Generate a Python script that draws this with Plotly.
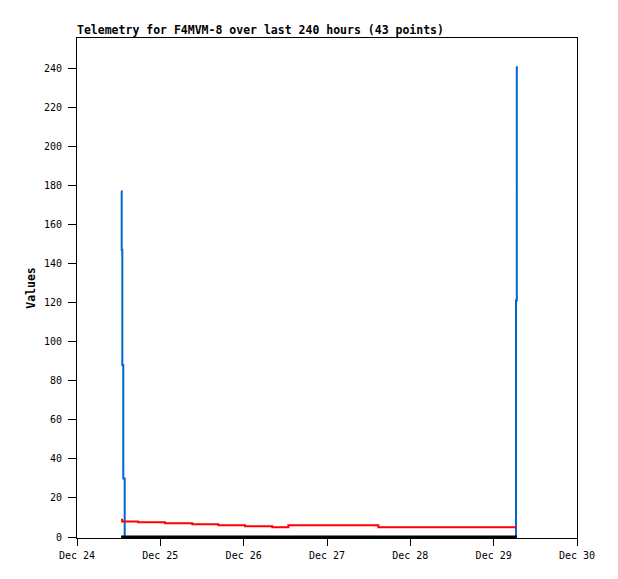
import plotly.graph_objects as go

# ---- data ----
blue_times = ["2024-12-24 12:42", "2024-12-24 12:52", "2024-12-24 13:03", "2024-12-24 13:20",
              "2024-12-24 13:44", "2024-12-29 06:26", "2024-12-29 06:40"]
blue_values = [177, 147, 88, 30, 0, 121, 241]

red_times = ["2024-12-24 12:42", "2024-12-24 13:00", "2024-12-24 17:34", "2024-12-25 01:21",
             "2024-12-25 09:12", "2024-12-25 16:42", "2024-12-26 00:23", "2024-12-26 08:15",
             "2024-12-26 12:52", "2024-12-27 14:47", "2024-12-29 06:40"]
red_values = [8.9, 8.0, 7.5, 7.0, 6.5, 6.0, 5.5, 5.0, 6.0, 5.0, 5.0]

black_times = ["2024-12-24 12:42", "2024-12-29 06:40"]
black_values = [0, 0]

title_text = "Telemetry for F4MVM-8 over last 240 hours (43 points)"
y_title = "Values"
x_range = ["2024-12-24", "2024-12-30"]
y_range = [-0.5, 255.4]

FONT = "DejaVu Sans Mono"
OFF = 8  # page body margin
W, H = 618 - OFF, 579 - OFF

fig = go.Figure()
fig.add_trace(go.Scatter(x=blue_times, y=blue_values, mode="lines",
                         line=dict(color="#0066CC", width=2, shape="hv"),
                         showlegend=False))
fig.add_trace(go.Scatter(x=black_times, y=black_values, mode="lines",
                         line=dict(color="#000000", width=3),
                         showlegend=False, hoverinfo="skip"))
fig.add_trace(go.Scatter(x=red_times, y=red_values, mode="lines",
                         line=dict(color="#FF0000", width=2, shape="hv"),
                         showlegend=False))

fig.update_layout(
    width=W, height=H,
    margin=dict(l=77 - OFF, r=41, t=38 - OFF, b=41),
    paper_bgcolor="white", plot_bgcolor="white",
    font=dict(family=FONT, size=10, color="black"),
    title=dict(text=title_text, x=(77 - OFF) / W, xref="container", xanchor="left",
               y=1 - (30 - OFF) / H, yref="container", yanchor="middle",
               font=dict(family=FONT, size=11.5, color="black", weight="bold")),
)
fig.update_xaxes(type="date", range=x_range, dtick=86400000, tickformat="%b %d",
                 showgrid=False, zeroline=False, showline=True, linecolor="black",
                 linewidth=1, mirror=True, ticks="outside", ticklen=7, tickcolor="black",
                 ticklabelstandoff=1,
                 tickfont=dict(family=FONT, size=10, color="black"))
fig.update_yaxes(range=y_range, dtick=20, tick0=0, showgrid=False, zeroline=False,
                 showline=True, linecolor="black", linewidth=1, mirror=True,
                 ticks="outside", ticklen=8, tickcolor="black", ticklabelstandoff=4,
                 tickfont=dict(family=FONT, size=10, color="black"),
                 title=dict(text=y_title, standoff=5,
                            font=dict(family=FONT, size=11.5, color="black", weight="bold")))

fig.write_html("out.html")
